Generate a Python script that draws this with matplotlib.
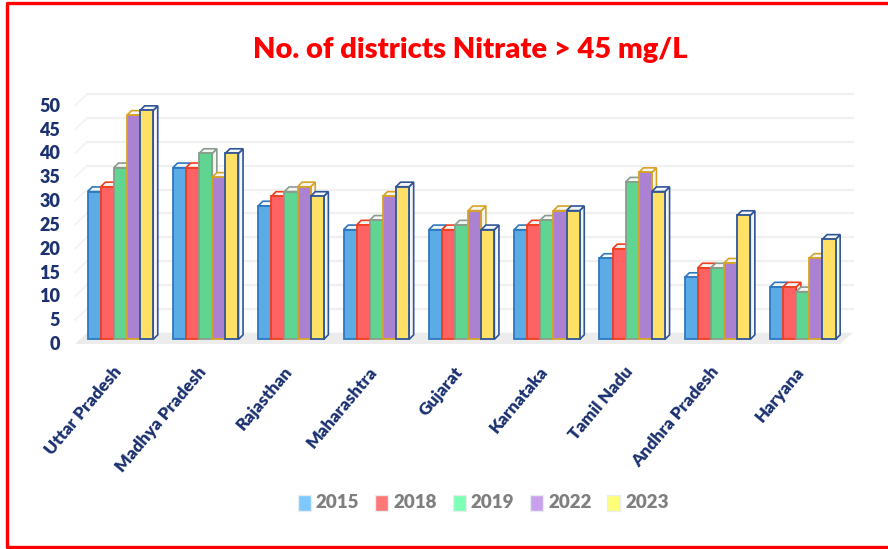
import matplotlib
matplotlib.use('Agg')
import matplotlib.pyplot as plt
from matplotlib.patches import Rectangle
from matplotlib.transforms import ScaledTranslation

# data
states = ['Uttar Pradesh', 'Madhya Pradesh', 'Rajasthan', 'Maharashtra', 'Gujarat',
          'Karnataka', 'Tamil Nadu', 'Andhra Pradesh', 'Haryana']
years = ['2015', '2018', '2019', '2022', '2023']
v2015 = [31, 36, 28, 23, 23, 23, 17, 13, 11]
v2018 = [32, 36, 30, 24, 23, 24, 19, 15, 11]
v2019 = [36, 39, 31, 25, 24, 25, 33, 15, 10]
v2022 = [47, 34, 32, 30, 27, 27, 35, 16, 17]
v2023 = [48, 39, 30, 32, 23, 27, 31, 26, 21]
series = [v2015, v2018, v2019, v2022, v2023]
y_ticks = [0, 5, 10, 15, 20, 25, 30, 35, 40, 45, 50]

# colours
fills = ['#5aabe6', '#ff6262', '#60d592', '#ab82d2', '#ffe066']
edges = ['#2e78c0', '#f0401e', '#8a9c8c', '#d8a424', '#2f5597']
legend_cols = ['#7cc8ff', '#ff7777', '#7dffb5', '#c9a0ec', '#ffff77']
navy = '#1b3170'

W, H = 888, 549
fig = plt.figure(figsize=(W / 100, H / 100), dpi=100, facecolor='white')

# axes placed so one group = 85.3 px and one unit = 4.77 px
ax_l, ax_r, ax_t, ax_b = 60, 870, 80, 350
ax = fig.add_axes([ax_l / W, 1 - ax_b / H, (ax_r - ax_l) / W, (ax_b - ax_t) / H])
px_x = 85.3
px_y = 4.77
x0_px = 120.4
y0_px = 339.4
ax.set_xlim((ax_l - x0_px) / px_x, (ax_r - x0_px) / px_x)
ax.set_ylim((y0_px - ax_b) / px_y, (y0_px - ax_t) / px_y)
for s in ax.spines.values():
    s.set_visible(False)

bar_w = 13.1 / px_x
dx = 4.6 / px_x   # depth of the bars
dy = 4.6 / px_y

# back wall grid and side wall
wall_x0 = (87 - x0_px) / px_x
wall_x1 = (853 - x0_px) / px_x
side_x = (75 - x0_px) / px_x
back_dy = 6.7 / px_y
front_dy = -4.6 / px_y
for t in y_ticks[1:]:
    ax.plot([wall_x0, wall_x1], [t + back_dy, t + back_dy], color='#f0f0f0', lw=1.6, zorder=1)
    ax.plot([side_x, wall_x0], [t + front_dy, t + back_dy], color='#f3f3f3', lw=1.2, zorder=1)
floor_x = [side_x, wall_x0, wall_x1, wall_x1 - 13 / px_x]
floor_y = [front_dy, back_dy, back_dy, front_dy]
ax.fill(floor_x, floor_y, color='#ececec', lw=0, zorder=1)

# bars, front face with a faked depth
for i, vals in enumerate(series):
    for j, v in enumerate(vals):
        left = j + (i - 2.5) * bar_w
        z = 3 + i
        ax.fill([left + bar_w, left + bar_w + dx, left + bar_w + dx, left + bar_w],
                [0, dy, v + dy, v], facecolor='#f4f6f6', edgecolor=edges[i], lw=1.2, zorder=z)
        ax.fill([left, left + dx, left + bar_w + dx, left + bar_w],
                [v, v + dy, v + dy, v], facecolor='#f4f6f6', edgecolor=edges[i], lw=1.2, zorder=z)
        ax.bar(j + (i - 2) * bar_w, v, width=bar_w, color=fills[i], edgecolor=edges[i],
               lw=1.3, zorder=z + 0.5)

ax.set_yticks(y_ticks)
ax.set_yticklabels([str(t) for t in y_ticks], fontsize=13, fontweight='heavy', color=navy, family='Lato')
ax.tick_params(axis='y', length=0, pad=0)
shift = ScaledTranslation(0, -3.8 / 100, fig.dpi_scale_trans)
for lab in ax.get_yticklabels():
    lab.set_transform(lab.get_transform() + shift)
ax.set_xticks(range(len(states)))
ax.set_xticklabels(states, rotation=50, ha='right', rotation_mode='anchor', fontsize=12.5,
                   fontweight='heavy', color=navy, family='Lato')
ax.tick_params(axis='x', length=0, pad=12)
shift_x = ScaledTranslation(-8 / 100, 3 / 100, fig.dpi_scale_trans)
for lab in ax.get_xticklabels():
    lab.set_transform(lab.get_transform() + shift_x)

fig.text(470 / W, 1 - 50 / H, 'No. of districts Nitrate > 45 mg/L', color='#ff0000', fontsize=21,
         fontweight='heavy', family='Lato', ha='center', va='center')

# legend
leg_x = [298, 375, 452.7, 530, 607]
for x, yr, c in zip(leg_x, years, legend_cols):
    fig.add_artist(Rectangle((x / W, 1 - 511 / H), 13 / W, 16 / H, transform=fig.transFigure,
                             facecolor=c, edgecolor='#e8eef0', lw=1))
    fig.text((x + 18) / W, 1 - 503 / H, yr, color='#7f7f7f', fontsize=13.5, fontweight='heavy',
             family='Lato', va='center')

# red frame, open on the right
frame_x = [890 / W, 6.5 / W, 6.5 / W, 890 / W]
frame_y = [1 - 2.5 / H, 1 - 2.5 / H, 1 - 547 / H, 1 - 547 / H]
fig.add_artist(plt.Line2D(frame_x, frame_y, transform=fig.transFigure, color='#ff0000', lw=2.4))

fig.savefig('out.png', dpi=100)
